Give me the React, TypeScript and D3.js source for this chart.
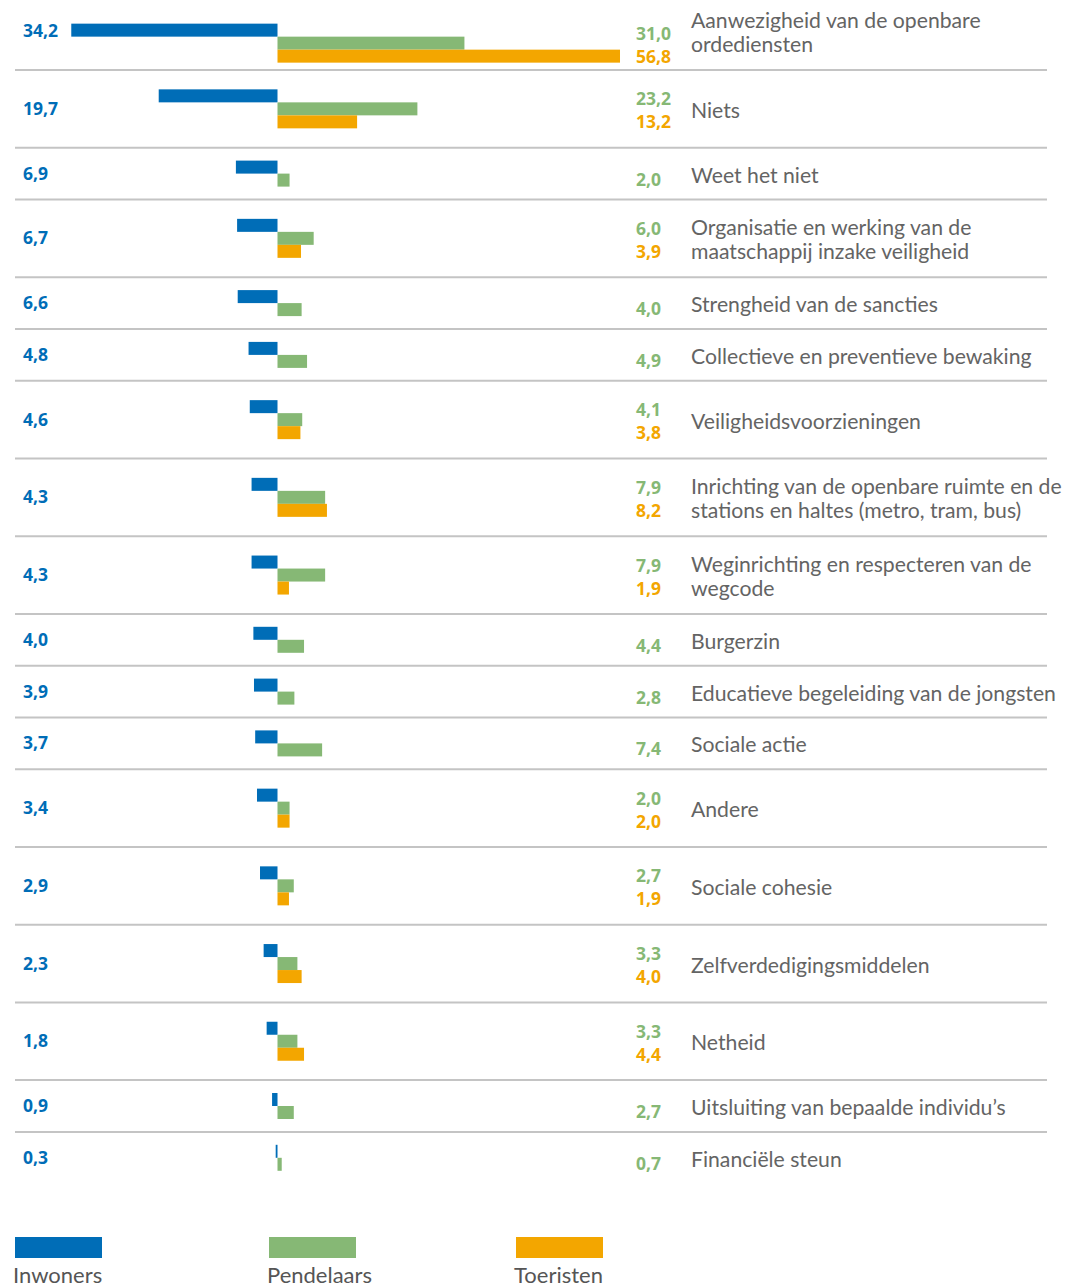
import React from "react";
import * as d3 from "d3";

const categories: string[] = [
  "Aanwezigheid van de openbare\nordediensten",
  "Niets",
  "Weet het niet",
  "Organisatie en werking van de\nmaatschappij inzake veiligheid",
  "Strengheid van de sancties",
  "Collectieve en preventieve bewaking",
  "Veiligheidsvoorzieningen",
  "Inrichting van de openbare ruimte en de\nstations en haltes (metro, tram, bus)",
  "Weginrichting en respecteren van de\nwegcode",
  "Burgerzin",
  "Educatieve begeleiding van de jongsten",
  "Sociale actie",
  "Andere",
  "Sociale cohesie",
  "Zelfverdedigingsmiddelen",
  "Netheid",
  "Uitsluiting van bepaalde individu\u2019s",
  "Financi\u00eble steun",
];

const inwoners: number[] = [34.2, 19.7, 6.9, 6.7, 6.6, 4.8, 4.6, 4.3, 4.3, 4.0, 3.9, 3.7, 3.4, 2.9, 2.3, 1.8, 0.9, 0.3];
const pendelaars: number[] = [31.0, 23.2, 2.0, 6.0, 4.0, 4.9, 4.1, 7.9, 7.9, 4.4, 2.8, 7.4, 2.0, 2.7, 3.3, 3.3, 2.7, 0.7];
const toeristen: (number | null)[] = [56.8, 13.2, null, 3.9, null, null, 3.8, 8.2, 1.9, null, null, null, 2.0, 1.9, 4.0, 4.4, null, null];

const seriesNames: string[] = ["Inwoners", "Pendelaars", "Toeristen"];
const seriesColors: string[] = ["#006DB7", "#86B875", "#F3A600"];

const fmt = (v: number) => v.toFixed(1).replace(".", ",");

export default function App() {
  const W = 1082;
  const H = 1287;
  const zero = 277.5;
  const pxPerUnit = 6.03;
  const x = d3.scaleLinear().domain([0, 60]).range([zero, zero + 60 * pxPerUnit]);
  const leftX = (v: number) => zero - (x(v) - zero);

  const slot = 25.9;
  const barH = 13;
  const nBars = categories.map((_, i) => (toeristen[i] == null ? 2 : 3));
  const heights = nBars.map((n) => n * slot);
  const firstTop = 70 - heights[0];
  const tops: number[] = [];
  let acc = firstTop;
  heights.forEach((h) => {
    tops.push(acc);
    acc += h;
  });

  const font = "Lato, 'Open Sans', sans-serif";
  const valueFont = "'Open Sans', Lato, sans-serif";
  const textGrey = "#646464";
  const vSize = 17.5;

  return (
    <svg width={W} height={H} style={{ position: "absolute", left: 0, top: 0, background: "#fff" }} fontFamily={font}>
      {categories.map((cat, i) => {
        const top = tops[i];
        const h = heights[i];
        const c = top + h / 2;
        const three = nBars[i] === 3;
        const shift = i === 0 ? 12 : 0;
        const blueTop = (three ? c - 19.5 : c - 13) + shift;
        const greenTop = blueTop + barH;
        const orangeTop = greenTop + barH;
        const lines = cat.split("\n");
        const greenLabelY = (three ? c - 10.5 : c + 5) + shift;
        const orangeLabelY = c + 12.5 + shift;
        return (
          <g key={i}>
            <rect x={leftX(inwoners[i])} y={blueTop} width={zero - leftX(inwoners[i])} height={barH} fill={seriesColors[0]} />
            <rect x={zero} y={greenTop} width={x(pendelaars[i]) - zero} height={barH} fill={seriesColors[1]} />
            {toeristen[i] != null && (
              <rect x={zero} y={orangeTop} width={x(toeristen[i] as number) - zero} height={barH} fill={seriesColors[2]} />
            )}
            <text x={23} y={c - 1} dominantBaseline="central" fontFamily={valueFont} fontSize={vSize} fontWeight="bold" fill={seriesColors[0]}>
              {fmt(inwoners[i])}
            </text>
            <text x={636} y={greenLabelY} dominantBaseline="central" fontFamily={valueFont} fontSize={vSize} fontWeight="bold" fill={seriesColors[1]}>
              {fmt(pendelaars[i])}
            </text>
            {toeristen[i] != null && (
              <text x={636} y={orangeLabelY} dominantBaseline="central" fontFamily={valueFont} fontSize={vSize} fontWeight="bold" fill={seriesColors[2]}>
                {fmt(toeristen[i] as number)}
              </text>
            )}
            {lines.map((ln, k) => (
              <text
                key={k}
                x={691}
                y={c + 1 + (k - (lines.length - 1) / 2) * 24}
                dominantBaseline="central"
                fontSize={21.2}
                fill={textGrey}
              >
                {ln}
              </text>
            ))}
            {i < categories.length - 1 && (
              <line x1={15} x2={1047} y1={top + h} y2={top + h} stroke="#C4C4C4" strokeWidth={2} />
            )}
          </g>
        );
      })}
      {seriesNames.map((s, i) => {
        const lx = [15, 269, 516][i];
        return (
          <g key={s}>
            <rect x={lx} y={1237} width={87} height={21} fill={seriesColors[i]} />
            <text x={lx - 2} y={1283} fontSize={22} fill="#555555">
              {s}
            </text>
          </g>
        );
      })}
    </svg>
  );
}
